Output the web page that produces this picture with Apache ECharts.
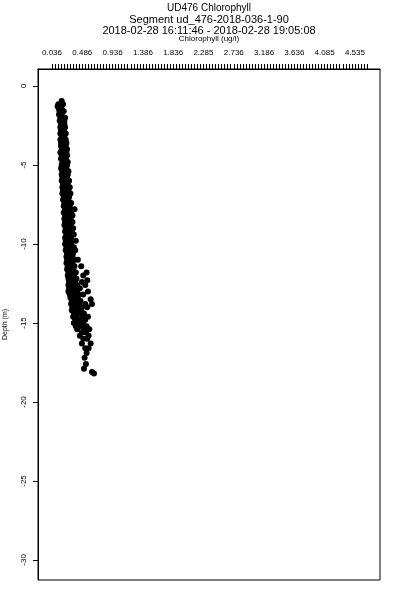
<!DOCTYPE html>
<html>
<head>
<meta charset="utf-8">
<script src="https://cdn.jsdelivr.net/npm/echarts@6/dist/echarts.min.js"></script>
<style>html,body{margin:0;padding:0;background:#fff}#c{width:400px;height:600px}</style>
</head>
<body>
<div id="c"></div>
<script>
const titleLines = ['UD476 Chlorophyll', 'Segment ud_476-2018-036-1-90', '2018-02-28 16:11:46 - 2018-02-28 19:05:08'];
const xName = 'Chlorophyll (ug/l)';
const yName = 'Depth (m)';
const xTickLabels = [0.036, 0.486, 0.936, 1.386, 1.836, 2.285, 2.736, 3.186, 3.636, 4.085, 4.535];
const yTickLabels = [0, -5, -10, -15, -20, -25, -30];
// [chlorophyll, depth]
const samples = [
[0.18,-0.95],
[0.13,-1.15],[0.17,-1.15],[0.20,-1.15],
[0.12,-1.3],[0.15,-1.3],
[0.14,-1.45],[0.18,-1.45],
[0.15,-1.6],[0.19,-1.6],[0.21,-1.6],
[0.14,-1.8],[0.18,-1.8],
[0.16,-2.0],[0.20,-2.0],[0.23,-2.0],
[0.15,-2.2],[0.19,-2.2],[0.22,-2.2],
[0.17,-2.4],[0.22,-2.4],
[0.16,-2.6],[0.20,-2.6],[0.23,-2.6],
[0.17,-2.8],[0.21,-2.8],
[0.16,-3.0],[0.20,-3.0],[0.24,-3.0],
[0.18,-3.2],[0.22,-3.2],
[0.16,-3.4],[0.20,-3.4],[0.24,-3.4],
[0.17,-3.6],[0.21,-3.6],[0.25,-3.6],
[0.17,-3.8],[0.21,-3.8],[0.24,-3.8],
[0.18,-4.0],[0.22,-4.0],[0.26,-4.0],
[0.16,-4.2],[0.20,-4.2],[0.25,-4.2],
[0.18,-4.4],[0.22,-4.4],[0.26,-4.4],
[0.17,-4.6],[0.21,-4.6],[0.24,-4.6],
[0.19,-4.8],[0.23,-4.8],[0.27,-4.8],
[0.18,-5.0],[0.22,-5.0],[0.26,-5.0],
[0.17,-5.2],[0.21,-5.2],[0.25,-5.2],
[0.19,-5.4],[0.24,-5.4],[0.28,-5.4],
[0.18,-5.6],[0.22,-5.6],[0.27,-5.6],
[0.19,-5.8],[0.23,-5.8],[0.26,-5.8],
[0.18,-6.0],[0.22,-6.0],[0.29,-6.0],
[0.20,-6.2],[0.24,-6.2],[0.27,-6.2],
[0.19,-6.4],[0.23,-6.4],[0.30,-6.4],
[0.20,-6.6],[0.25,-6.6],[0.28,-6.6],
[0.19,-6.8],[0.24,-6.8],[0.31,-6.8],
[0.21,-7.0],[0.25,-7.0],[0.29,-7.0],
[0.20,-7.2],[0.24,-7.2],[0.28,-7.2],
[0.22,-7.4],[0.26,-7.4],[0.32,-7.4],
[0.21,-7.6],[0.25,-7.6],[0.30,-7.6],
[0.23,-7.8],[0.27,-7.8],[0.31,-7.8],[0.37,-7.8],
[0.21,-8.0],[0.26,-8.0],[0.32,-8.0],
[0.23,-8.2],[0.28,-8.2],[0.34,-8.2],
[0.22,-8.4],[0.27,-8.4],[0.31,-8.4],
[0.23,-8.6],[0.29,-8.6],[0.34,-8.6],
[0.22,-8.8],[0.26,-8.8],[0.31,-8.8],
[0.24,-9.0],[0.29,-9.0],[0.35,-9.0],
[0.23,-9.2],[0.28,-9.2],[0.33,-9.2],
[0.25,-9.4],[0.30,-9.4],[0.36,-9.4],
[0.23,-9.6],[0.28,-9.6],[0.32,-9.6],
[0.24,-9.8],[0.29,-9.8],[0.34,-9.8],[0.39,-9.8],
[0.23,-10.0],[0.27,-10.0],[0.32,-10.0],
[0.25,-10.2],[0.30,-10.2],[0.36,-10.2],
[0.24,-10.4],[0.29,-10.4],[0.33,-10.4],[0.38,-10.4],
[0.26,-10.6],[0.31,-10.6],[0.35,-10.6],
[0.25,-10.8],[0.29,-10.8],[0.34,-10.8],
[0.26,-11.0],[0.31,-11.0],[0.37,-11.0],[0.42,-11.0],
[0.25,-11.2],[0.30,-11.2],[0.34,-11.2],
[0.27,-11.4],[0.32,-11.4],[0.37,-11.4],[0.47,-11.4],
[0.26,-11.6],[0.31,-11.6],[0.35,-11.6],[0.55,-11.8],
[0.28,-11.8],[0.33,-11.8],[0.39,-11.8],
[0.27,-12.0],[0.32,-12.0],[0.36,-12.0],[0.50,-12.0],
[0.28,-12.2],[0.34,-12.2],[0.40,-12.2],[0.56,-12.3],
[0.29,-12.4],[0.33,-12.4],[0.38,-12.4],[0.48,-12.4],
[0.28,-12.6],[0.35,-12.6],[0.41,-12.6],[0.53,-12.6],
[0.29,-12.8],[0.33,-12.8],[0.38,-12.8],[0.45,-12.8],
[0.28,-13.0],[0.35,-13.0],[0.41,-13.0],[0.57,-13.0],
[0.30,-13.2],[0.36,-13.2],[0.43,-13.2],[0.50,-13.2],
[0.31,-13.4],[0.37,-13.4],[0.42,-13.4],[0.61,-13.5],
[0.33,-13.6],[0.39,-13.6],[0.46,-13.6],
[0.32,-13.8],[0.38,-13.8],[0.44,-13.8],[0.53,-13.8],[0.63,-13.8],
[0.34,-14.0],[0.41,-14.0],[0.48,-14.0],[0.56,-14.0],
[0.33,-14.2],[0.39,-14.2],[0.47,-14.2],
[0.36,-14.4],[0.43,-14.4],[0.51,-14.4],
[0.35,-14.6],[0.40,-14.6],[0.49,-14.6],[0.57,-14.6],
[0.38,-14.8],[0.45,-14.8],[0.53,-14.8],
[0.36,-15.0],[0.42,-15.0],[0.50,-15.0],
[0.39,-15.2],[0.47,-15.2],[0.55,-15.2],
[0.41,-15.4],[0.51,-15.4],[0.59,-15.4],
[0.48,-15.6],[0.54,-15.6],
[0.45,-15.8],[0.58,-15.8],
[0.50,-16.0],[0.56,-16.0],
[0.48,-16.3],[0.61,-16.3],
[0.53,-16.6],[0.58,-16.6],
[0.55,-16.9],
[0.52,-17.2],
[0.54,-17.6],
[0.51,-17.9],
[0.63,-18.1],
[0.66,-18.2]
];

// minor tick positions: 10 per label interval, 4 beyond the last label
const xMinorTicks = [];
for (let i = 0; i < xTickLabels.length; i++) {
  const a = xTickLabels[i];
  const last = i === xTickLabels.length - 1;
  const step = !last ? (xTickLabels[i + 1] - a) / 10 : (xTickLabels[i] - xTickLabels[i - 1]) / 10;
  const n = !last ? 10 : 5;
  for (let k = 0; k < n; k++) xMinorTicks.push(a + k * step);
}

const font = 'Liberation Sans, Arial, Helvetica, sans-serif';
const chart = echarts.init(document.getElementById('c'), null, {renderer: 'canvas'});
chart.setOption({
  animation: false,
  backgroundColor: '#fff',
  title: titleLines.map((t, i) => ({
    text: t, left: 209, top: [3, 14, 25][i], textAlign: 'center', padding: 0,
    textStyle: {fontSize: i === 0 ? 10 : 11, fontWeight: 'normal', color: '#000', fontFamily: font}
  })),
  grid: {left: 38, right: 20, top: 69, bottom: 20, containLabel: false, outerBoundsMode: 'none',
    show: true, borderColor: '#000', borderWidth: 1, backgroundColor: 'transparent'},
  xAxis: {
    type: 'value', position: 'top', min: -0.172, max: 4.908,
    name: xName, nameLocation: 'middle', nameGap: 26, nameMoveOverlap: false,
    nameTextStyle: {fontSize: 8, color: '#000', fontFamily: font},
    axisLine: {show: true, onZero: false, lineStyle: {color: '#000', width: 1}},
    axisTick: {show: true, length: 5, inside: false, customValues: xMinorTicks, lineStyle: {color: '#000', width: 1}},
    axisLabel: {show: true, customValues: xTickLabels, margin: 12, fontSize: 8, color: '#000', fontFamily: font,
      formatter: v => v.toFixed(3), showMinLabel: true, showMaxLabel: true, hideOverlap: false},
    splitLine: {show: false}
  },
  yAxis: {
    type: 'value', min: -31.27, max: 1.08,
    name: yName, nameLocation: 'middle', nameGap: 29, nameRotate: 90, nameMoveOverlap: false,
    nameTextStyle: {fontSize: 7, color: '#000', fontFamily: font},
    axisLine: {show: true, onZero: false, lineStyle: {color: '#000', width: 1}},
    axisTick: {show: true, length: 5, inside: false, customValues: yTickLabels, lineStyle: {color: '#000', width: 1}},
    axisLabel: {show: true, customValues: yTickLabels, rotate: 90, margin: 10, fontSize: 8, color: '#000', fontFamily: font,
      formatter: v => String(v), hideOverlap: false},
    splitLine: {show: false}
  },
  series: [{
    type: 'scatter', data: samples, symbol: 'circle', symbolSize: 6,
    itemStyle: {color: '#000', opacity: 1}, clip: false
  }]
});
</script>
</body>
</html>
